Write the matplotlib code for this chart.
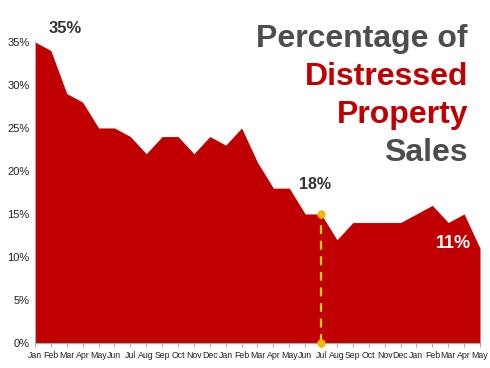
import matplotlib
matplotlib.use('Agg')
from matplotlib import pyplot
from matplotlib.ticker import FuncFormatter

pyplot.rcParams['font.family'] = ['Liberation Sans', 'DejaVu Sans']

months = ['Jan', 'Feb', 'Mar', 'Apr', 'May', 'Jun', 'Jul', 'Aug', 'Sep', 'Oct', 'Nov', 'Dec',
          'Jan', 'Feb', 'Mar', 'Apr', 'May', 'Jun', 'Jul', 'Aug', 'Sep', 'Oct', 'Nov', 'Dec',
          'Jan', 'Feb', 'Mar', 'Apr', 'May']
values = [35, 34, 29, 28, 25, 25, 24, 22, 24, 24, 22, 24, 23, 25, 21, 18, 18, 15,
          15, 12, 14, 14, 14, 14, 15, 16, 14, 15, 11]
marker_idx = 18  # Jul, second year

red = '#c00000'
grey = '#4d4d4d'

fig = pyplot.figure(figsize=(4.9, 3.68), dpi=100)
ax = fig.add_axes([0.0714, 0.068, 0.9082, 0.818])

x = list(range(len(values)))
ax.fill_between(x, values, 0, color=red, linewidth=0)
ax.plot([marker_idx, marker_idx], [0, values[marker_idx]], color='#ffd000',
        linestyle=(0, (4, 3)), linewidth=1.6, zorder=3)
ax.plot([marker_idx, marker_idx], [0, values[marker_idx]], 'o', color='#f5b800',
        markersize=5, zorder=4, clip_on=False)

ax.set_xlim(0, len(values) - 1)
ax.set_ylim(0, 35)
ax.set_xticks(x)
ax.set_xticklabels(months, fontsize=6.3, color='#222222')
ax.set_yticks(range(0, 36, 5))
ax.yaxis.set_major_formatter(FuncFormatter(lambda v, p: f'{int(v)}%'))
ax.tick_params(axis='y', labelsize=8, length=0, pad=4, colors='#222222')
ax.tick_params(axis='x', length=3, color='#aaaaaa', pad=3)
for s in ['top', 'right']:
    ax.spines[s].set_visible(False)
for s in ['left', 'bottom']:
    ax.spines[s].set_color('#aaaaaa')
    ax.spines[s].set_linewidth(0.8)

ax.text(1.9, 36.6, '35%', fontsize=12, color='#333333', fontweight='bold',
        ha='center', va='center', clip_on=False)
ax.text(17.6, 18.4, '18%', fontsize=11.5, color='#333333', fontweight='bold',
        ha='center', va='center')
ax.text(26.3, 11.6, '11%', fontsize=13, color='white', fontweight='bold', ha='center', va='center')

title_lines = [('Percentage of', grey), ('Distressed', red), ('Property', red), ('Sales', grey)]
for i, (line, col) in enumerate(title_lines):
    fig.text(0.955, 0.893 - i * 0.103, line, fontsize=23, fontweight='bold', color=col,
             ha='right', va='center')

fig.savefig('out.png', dpi=100)
